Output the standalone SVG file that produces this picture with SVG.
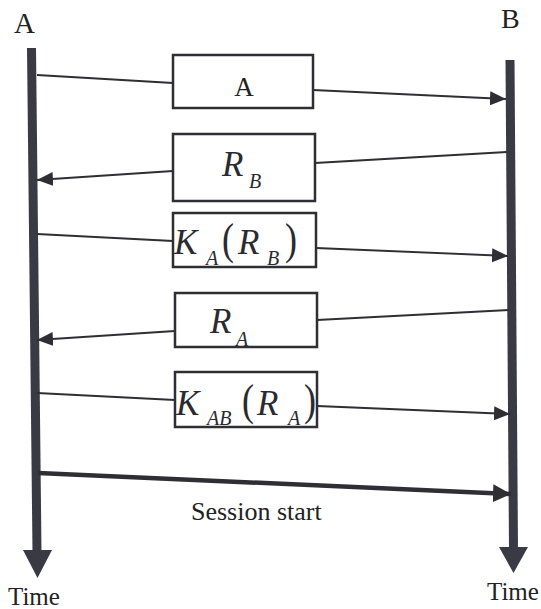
<svg xmlns="http://www.w3.org/2000/svg" width="541" height="609" viewBox="0 0 541 609">
  <style>
    .lbl { font-family: "Liberation Serif", "DejaVu Serif", serif; fill: #222; }
    .math { font-family: "Liberation Serif", "DejaVu Serif", serif; font-style: italic; fill: #2a2a30; }
    .paren { font-family: "Liberation Serif", "DejaVu Serif", serif; fill: #2a2a30; }
    .box { fill: #fff; stroke: #2e2e34; stroke-width: 2.5; }
    .msg { stroke: #2e2e34; stroke-width: 1.8; fill: none; }
    .bar { stroke: #3a3a44; stroke-width: 9; fill: none; }
    .head { fill: #3a3a44; }
  </style>
  <defs>
    <marker id="arr" markerUnits="userSpaceOnUse" markerWidth="18" markerHeight="16" refX="16" refY="8" orient="auto">
      <path d="M0,1 L16,8 L0,15 Z" fill="#2e2e34"/>
    </marker>
    <marker id="arrBig" markerUnits="userSpaceOnUse" markerWidth="20" markerHeight="20" refX="18" refY="10" orient="auto">
      <path d="M0,1 L18,10 L0,19 Z" fill="#2e2e34"/>
    </marker>
  </defs>

  <!-- participant A: timeline -->
  <g id="timeline-a">
    <text class="lbl" x="14" y="33" font-size="29">A</text>
    <line class="bar" x1="31.5" y1="48" x2="37" y2="552"/>
    <polygon class="head" points="23,550 52,550 37.5,578"/>
    <text class="lbl" x="8" y="605" font-size="25">Time</text>
  </g>

  <!-- participant B: timeline -->
  <g id="timeline-b">
    <text class="lbl" x="501" y="28" font-size="28">B</text>
    <line class="bar" x1="510" y1="60" x2="513.5" y2="549"/>
    <polygon class="head" points="499,547 528,547 513.5,573"/>
    <text class="lbl" x="487" y="600" font-size="25">Time</text>
  </g>

  <!-- messages -->
  <g id="connectors">
    <!-- 1: A -> B -->
    <line class="msg" x1="37" y1="75" x2="173" y2="83"/>
    <line class="msg" x1="313" y1="90" x2="506" y2="99" marker-end="url(#arr)"/>
    <!-- 2: B -> A -->
    <line class="msg" x1="507" y1="152" x2="315" y2="163"/>
    <line class="msg" x1="173" y1="171" x2="37" y2="180" marker-end="url(#arr)"/>
    <!-- 3: A -> B -->
    <line class="msg" x1="37" y1="234" x2="173" y2="241"/>
    <line class="msg" x1="316" y1="248" x2="508" y2="256" marker-end="url(#arr)"/>
    <!-- 4: B -> A -->
    <line class="msg" x1="509" y1="310" x2="317" y2="320"/>
    <line class="msg" x1="175" y1="331" x2="37" y2="340" marker-end="url(#arr)"/>
    <!-- 5: A -> B -->
    <line class="msg" x1="37" y1="393" x2="175" y2="400"/>
    <line class="msg" x1="317" y1="406" x2="510" y2="414" marker-end="url(#arr)"/>
    <!-- session start -->
    <line x1="38" y1="473" x2="511" y2="494" stroke="#2e2e34" stroke-width="4.5" marker-end="url(#arrBig)"/>
  </g>
  <text class="lbl" x="191" y="520" font-size="26">Session start</text>

  <!-- message boxes -->
  <g id="msg-a">
    <rect class="box" x="173" y="55" width="140" height="53"/>
    <text class="lbl" x="244" y="96" font-size="27" text-anchor="middle">A</text>
  </g>

  <g id="msg-rb">
    <rect class="box" x="173" y="134" width="142" height="67"/>
    <text class="math" x="222" y="176" font-size="35">R</text>
    <text class="math" x="249" y="188" font-size="20">B</text>
  </g>

  <g id="msg-ka-rb">
    <rect class="box" x="173" y="213" width="143" height="54"/>
    <text class="math" x="174" y="254" font-size="35">K</text>
    <text class="math" x="206" y="265" font-size="20">A</text>
    <text class="paren" transform="translate(222,254) scale(1,1.25)" font-size="36">(</text>
    <text class="math" x="238" y="254" font-size="35">R</text>
    <text class="math" x="267" y="265" font-size="20">B</text>
    <text class="paren" transform="translate(285,254) scale(1,1.25)" font-size="36">)</text>
  </g>

  <g id="msg-ra">
    <rect class="box" x="175" y="293" width="142" height="54"/>
    <text class="math" x="210" y="333" font-size="35">R</text>
    <text class="math" x="236" y="346" font-size="20">A</text>
  </g>

  <g id="msg-kab-ra">
    <rect class="box" x="175" y="372" width="142" height="55"/>
    <text class="math" x="176" y="415" font-size="35">K</text>
    <text class="math" x="207" y="425" font-size="20">AB</text>
    <text class="paren" transform="translate(242,415) scale(1,1.25)" font-size="36">(</text>
    <text class="math" x="257" y="415" font-size="35">R</text>
    <text class="math" x="288" y="425" font-size="20">A</text>
    <text class="paren" transform="translate(304,415) scale(1,1.25)" font-size="36">)</text>
  </g>
</svg>
